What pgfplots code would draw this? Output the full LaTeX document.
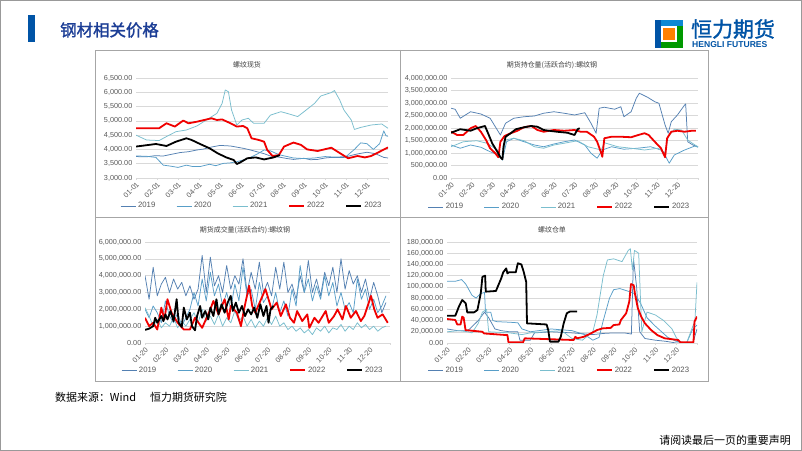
\documentclass[border=0pt]{standalone}
\usepackage{fontspec}
\setmainfont{Liberation Sans}
\newfontfamily\cjk{Noto Sans CJK SC}
\newfontfamily\cjkb[FakeBold=1.6]{Noto Sans CJK SC}
\usepackage{pgfplots}
\pgfplotsset{compat=1.18}

\definecolor{c19}{RGB}{84,128,178}
\definecolor{c20}{RGB}{88,158,200}
\definecolor{c21}{RGB}{122,190,206}
\definecolor{c22}{RGB}{240,0,0}
\definecolor{tickgray}{RGB}{89,89,89}
\definecolor{gridgray}{RGB}{217,217,217}
\definecolor{hlblue}{RGB}{0,84,166}
\definecolor{ttlblue}{RGB}{28,62,150}

\pgfplotsset{
  rebar/.style={
    scale only axis, anchor=south west,
    xmin=0, xmax=12, xtick={0,...,12},
    axis x line*=bottom, axis y line*=left,
    y axis line style={draw=none}, ytick style={draw=none},
    x axis line style={draw=gridgray}, xtick style={draw=gridgray},
    major tick length=2bp, tick align=outside,
    ymajorgrids, grid style={gridgray, line width=0.5bp},
    tick label style={font=\fontsize{7.3}{8}\selectfont, text=tickgray},
    xticklabel style={rotate=45, anchor=north east, inner sep=1bp},
    yticklabel style={inner sep=1.5bp},
    /pgf/number format/assume math mode=true,
    legend columns=5,
    legend style={draw=none, fill=none, font=\fontsize{7.8}{9}\selectfont,
      text=tickgray, anchor=center, inner sep=0pt,
      /tikz/every even column/.append style={column sep=19bp}},
    legend image code/.code={\draw[##1] (0bp,0bp) -- (15bp,0bp);},
    every axis plot/.append style={line join=round, no marks},
  },
  s19/.style={color=c19, line width=0.75bp},
  s20/.style={color=c20, line width=0.75bp},
  s21/.style={color=c21, line width=0.75bp},
  s22/.style={color=c22, line width=1.8bp},
  s23/.style={color=black, line width=1.8bp},
}

\begin{document}
\begin{tikzpicture}[x=1bp,y=1bp]
\path[use as bounding box] (0,0) rectangle (802,451);
\fill[white] (0,0) rectangle (802,451);
\draw[gray!80, line width=1.2bp] (0.6,0.6) rectangle (801.4,450.4);

% header
\fill[hlblue] (28,436) rectangle (35,409);
\node[anchor=west, inner sep=0pt, font=\cjkb\fontsize{16.5}{17}\selectfont, text=ttlblue] at (60,421) {钢材相关价格};
\fill[hlblue] (655,431) rectangle (661,403);
\fill[cyan!70!blue] (661,431) rectangle (683,425);
\fill[green!60!black] (677,425) rectangle (683,403);
\fill[green!60!black] (661,409) rectangle (677,403);
\fill[orange] (663,423) rectangle (675,411);
\node[anchor=west, inner sep=0pt, font=\cjkb\fontsize{21}{21}\selectfont, text=hlblue] at (691,422) {恒力期货};
\node[anchor=west, inner sep=0pt, font=\bfseries\fontsize{8.6}{9}\selectfont, text=hlblue] at (692,406) {HENGLI FUTURES};

% panels
\draw[gray!70, line width=0.8bp] (95,401) rectangle (708,70);
\draw[gray!70, line width=0.8bp] (400,401) -- (400,70);
\draw[gray!70, line width=0.8bp] (95,234) -- (708,234);

\node[font=\cjk\fontsize{7}{8}\selectfont, text=black!75] at (247,386) {螺纹现货};
\node[font=\cjk\fontsize{7}{8}\selectfont, text=black!75] at (552,386) {期货持仓量(活跃合约):螺纹钢};
\node[font=\cjk\fontsize{7}{8}\selectfont, text=black!75] at (245,221) {期货成交量(活跃合约):螺纹钢};
\node[font=\cjk\fontsize{7}{8}\selectfont, text=black!75] at (552,221) {螺纹仓单};

% footer
\node[anchor=west, inner sep=0pt, font=\cjk\fontsize{11}{11}\selectfont] at (55,54) {数据来源：Wind\hspace{14bp}恒力期货研究院};
\node[anchor=east, inner sep=0pt, font=\cjk\fontsize{11}{11}\selectfont] at (791,11) {请阅读最后一页的重要声明};

% ---------- top left: spot price
\begin{axis}[rebar, at={(136bp,273bp)}, width=252bp, height=100bp,
  ymin=3000, ymax=6500, ytick={3000,3500,...,6500},
  yticklabel={\pgfmathprintnumber[fixed,fixed zerofill,precision=2,1000 sep={,}]{\tick}},
  xticklabels={01-01,02-01,03-01,04-01,05-01,06-01,07-01,08-01,09-01,10-01,11-01,12-01,{}},
  legend style={at={(0.46,-0.28)}}]
\addplot[s19] coordinates {(0,3750)(0.5,3740)(0.9,3780)(1.3,3770)(1.7,3830)(2.1,3890)(2.5,3920)(2.9,3980)(3.2,4010)(3.5,4070)(4.0,4140)(4.5,4120)(4.8,4080)(5.1,4040)(5.4,3990)(5.75,3920)(6.1,3850)(6.4,3770)(6.9,3720)(7.2,3680)(7.5,3650)(8.0,3690)(8.3,3640)(8.65,3650)(9.0,3700)(9.3,3720)(9.9,3720)(10.3,3800)(10.6,3850)(11.0,3900)(11.4,3850)(11.8,3720)(12,3700)};
\addlegendentry{2019}
\addplot[s20] coordinates {(0,3770)(0.5,3760)(0.95,3720)(1.1,3600)(1.3,3450)(1.6,3420)(2.0,3370)(2.4,3450)(2.7,3400)(3.05,3400)(3.5,3480)(3.8,3430)(4.15,3510)(4.5,3530)(4.8,3570)(5.2,3650)(5.45,3720)(5.8,3850)(6.1,3980)(6.4,3950)(6.7,3850)(6.9,3800)(7.5,3700)(8.0,3680)(8.5,3700)(9.0,3750)(9.5,3730)(10.0,3750)(10.4,4000)(10.7,4230)(11.0,4200)(11.3,4000)(11.6,4200)(11.8,4650)(11.9,4480)(12,4460)};
\addlegendentry{2020}
\addplot[s21] coordinates {(0,4500)(0.5,4330)(1.1,4310)(1.45,4450)(1.9,4620)(2.4,4680)(2.9,4820)(3.35,5030)(3.85,5260)(4.1,5610)(4.25,6080)(4.4,6020)(4.55,5380)(4.8,4855)(5.05,5030)(5.35,5090)(5.6,4915)(6.1,4915)(6.4,5200)(6.9,5320)(7.2,5260)(7.7,5150)(8.0,5320)(8.5,5610)(8.8,5870)(9.3,5990)(9.45,6060)(9.7,5730)(9.9,5380)(10.25,5030)(10.4,4700)(10.7,4770)(11.2,4855)(11.7,4890)(12,4740)};
\addlegendentry{2021}
\addplot[s22] coordinates {(0,4740)(1.1,4740)(1.45,4915)(1.85,4800)(2.25,5010)(2.5,4915)(2.9,4970)(3.6,5090)(3.85,5030)(4.1,5050)(4.5,4915)(4.8,4800)(5.1,4820)(5.3,4740)(5.5,4390)(5.85,4330)(6.1,4270)(6.25,3980)(6.5,3770)(6.8,3800)(7.05,4100)(7.5,4240)(7.85,4160)(8.15,4000)(8.65,3945)(9.3,4060)(9.6,3920)(10.1,3690)(10.55,3770)(10.9,3720)(11.2,3770)(11.6,3920)(12,4070)};
\addlegendentry{2022}
\addplot[s23] coordinates {(0,4100)(0.95,4190)(1.45,4120)(1.9,4270)(2.4,4390)(2.65,4330)(3.05,4190)(3.5,4040)(3.9,3860)(4.3,3720)(4.65,3630)(4.8,3490)(4.95,3540)(5.3,3690)(5.7,3720)(6.1,3650)(6.55,3720)(6.85,3800)};
\addlegendentry{2023}
\end{axis}

% ---------- top right: open interest (million)
\begin{axis}[rebar, at={(451bp,273bp)}, width=247bp, height=100bp,
  ymin=0, ymax=4, ytick={0,0.5,1,1.5,2,2.5,3,3.5,4},
  yticklabels={{0.00},{500,000.00},{1,000,000.00},{1,500,000.00},{2,000,000.00},{2,500,000.00},{3,000,000.00},{3,500,000.00},{4,000,000.00}},
  xticklabels={01-20,02-20,03-20,04-20,05-20,06-20,07-20,08-20,09-20,10-20,11-20,12-20,{}},
  legend style={at={(0.44,-0.29)}}]
\addplot[s19] coordinates {(0,2.79)(0.2,2.75)(0.45,2.39)(0.95,2.65)(1.45,2.56)(1.9,2.39)(2.25,1.92)(2.4,1.72)(2.65,2.19)(3.05,2.39)(3.55,2.45)(4.05,2.48)(4.5,2.59)(5.0,2.65)(5.5,2.59)(6.0,2.52)(6.5,2.61)(6.8,2.19)(7.05,1.79)(7.2,2.79)(7.45,2.83)(7.95,2.75)(8.25,2.85)(8.4,2.45)(8.75,2.65)(9.0,3.19)(9.15,3.39)(9.55,3.23)(9.9,3.05)(10.1,2.99)(10.4,2.12)(10.55,1.79)(10.7,2.25)(11.0,2.52)(11.35,2.92)(11.4,2.96)(11.5,1.45)(11.75,1.32)(12,1.25)};
\addlegendentry{2019}
\addplot[s20] coordinates {(0,1.32)(0.45,1.19)(0.95,1.32)(1.45,1.23)(1.9,1.05)(2.3,0.92)(2.5,0.72)(2.7,1.45)(3.05,1.59)(3.55,1.45)(4.05,1.32)(4.5,1.25)(5.0,1.36)(5.5,1.45)(6.0,1.52)(6.5,1.32)(6.8,0.99)(7.1,0.79)(7.35,1.12)(7.8,1.25)(8.4,1.15)(9.05,1.19)(9.7,1.25)(10.2,1.12)(10.45,0.83)(10.6,0.59)(10.85,0.92)(11.35,1.12)(11.85,1.28)(12,1.23)};
\addlegendentry{2020}
\addplot[s21] coordinates {(0,1.25)(0.6,1.45)(1.25,1.49)(1.75,1.39)(2.25,1.12)(2.5,0.72)(2.65,1.52)(3.05,1.59)(3.55,1.49)(4.05,1.25)(4.5,1.19)(5.0,1.32)(5.5,1.39)(6.15,1.49)(6.65,1.25)(7.3,1.12)(7.45,1.41)(8.1,1.25)(8.75,1.19)(9.4,1.12)(10.05,1.19)(10.4,1.01)(10.55,1.65)(10.85,1.95)(11.2,1.92)(11.5,1.52)(11.85,1.32)(12,1.25)};
\addlegendentry{2021}
\addplot[s22] coordinates {(0,1.85)(0.3,1.72)(0.6,1.72)(0.95,1.99)(1.2,2.08)(1.45,1.85)(1.7,1.52)(1.9,1.19)(2.15,0.99)(2.3,0.83)(2.4,1.45)(2.6,1.68)(2.9,1.79)(3.2,1.88)(3.55,2.03)(3.9,2.08)(4.2,1.92)(4.5,1.85)(5.0,1.92)(5.5,1.89)(6.0,1.92)(6.3,1.85)(6.6,1.85)(6.95,1.65)(7.1,1.45)(7.3,0.99)(7.35,0.85)(7.45,1.59)(7.8,1.65)(8.25,1.65)(8.75,1.63)(9.1,1.72)(9.4,1.79)(9.6,1.72)(9.9,1.45)(10.2,1.19)(10.4,0.83)(10.5,1.59)(10.7,1.85)(11.0,1.89)(11.35,1.85)(11.7,1.89)(11.9,1.89)};
\addlegendentry{2022}
\addplot[s23] coordinates {(0,1.81)(0.45,1.95)(0.95,1.89)(1.25,1.99)(1.65,2.08)(1.8,1.79)(2.0,1.39)(2.25,1.05)(2.4,0.83)(2.5,0.75)(2.55,1.25)(2.65,1.65)(2.9,1.79)(3.15,1.95)(3.55,2.03)(3.9,2.08)(4.2,2.05)(4.5,1.92)(4.85,1.88)(5.15,1.85)(5.65,1.81)(6.0,1.72)(6.15,1.95)(6.25,1.99)};
\addlegendentry{2023}
\end{axis}

% ---------- bottom left: volume (million)
\begin{axis}[rebar, at={(145bp,108bp)}, width=245bp, height=101bp,
  ymin=0, ymax=6, ytick={0,...,6},
  yticklabels={{0.00},{1,000,000.00},{2,000,000.00},{3,000,000.00},{4,000,000.00},{5,000,000.00},{6,000,000.00}},
  xticklabels={01-20,02-20,03-20,04-20,05-20,06-20,07-20,08-20,09-20,10-20,11-20,12-20,{}},
  legend style={at={(0.44,-0.27)}}]
\addplot[s19] coordinates {(0,4.0)(0.2,2.6)(0.4,4.5)(0.6,2.8)(0.8,3.5)(1.0,3.9)(1.2,3.0)(1.4,3.8)(1.6,3.2)(1.8,3.6)(2.0,2.8)(2.2,3.4)(2.4,2.6)(2.6,3.2)(2.8,5.2)(3.0,3.0)(3.2,5.1)(3.4,3.4)(3.6,4.0)(3.8,3.0)(4.0,4.6)(4.2,3.2)(4.4,4.0)(4.6,3.5)(4.8,5.0)(5.0,3.0)(5.2,4.2)(5.4,3.2)(5.6,4.8)(5.8,3.0)(6.0,3.6)(6.2,2.8)(6.4,4.5)(6.6,3.2)(6.8,4.8)(7.0,3.0)(7.2,3.5)(7.4,2.6)(7.6,4.0)(7.8,3.0)(8.0,4.9)(8.2,3.0)(8.4,3.8)(8.6,2.8)(8.8,4.2)(9.0,3.4)(9.2,4.5)(9.4,3.0)(9.6,5.0)(9.8,3.2)(10.0,4.3)(10.2,3.5)(10.4,4.0)(10.6,3.0)(10.8,3.8)(11.0,2.6)(11.2,3.6)(11.4,2.8)(11.6,1.8)(11.8,2.4)};
\addlegendentry{2019}
\addplot[s20] coordinates {(0,2.0)(0.2,1.5)(0.4,2.2)(0.6,1.8)(0.8,1.2)(1.0,2.5)(1.2,1.6)(1.4,1.2)(1.6,1.8)(1.8,1.0)(2.0,1.5)(2.2,2.0)(2.4,3.0)(2.6,2.2)(2.8,3.8)(3.0,2.5)(3.2,4.2)(3.4,2.8)(3.6,3.5)(3.8,2.2)(4.0,3.0)(4.2,2.0)(4.4,3.5)(4.6,2.5)(4.8,4.5)(5.0,2.8)(5.2,3.2)(5.4,2.0)(5.6,3.6)(5.8,2.4)(6.0,2.8)(6.2,2.0)(6.4,3.0)(6.6,1.8)(6.8,2.5)(7.0,1.6)(7.2,3.2)(7.4,2.2)(7.6,4.6)(7.8,3.0)(8.0,3.8)(8.2,2.5)(8.4,3.4)(8.6,2.6)(8.8,4.0)(9.0,2.8)(9.2,3.6)(9.4,2.2)(9.6,3.0)(9.8,2.0)(10.0,2.4)(10.2,1.8)(10.4,3.8)(10.6,2.6)(10.8,3.2)(11.0,2.0)(11.2,2.6)(11.4,1.8)(11.6,2.2)(11.8,2.8)};
\addlegendentry{2020}
\addplot[s21] coordinates {(0,2.1)(0.2,1.6)(0.4,1.0)(0.6,1.4)(0.8,0.9)(1.0,1.2)(1.2,1.0)(1.4,1.5)(1.6,0.9)(1.8,1.3)(2.0,1.0)(2.2,1.4)(2.4,1.8)(2.6,1.2)(2.8,2.0)(3.0,1.3)(3.2,1.6)(3.4,1.1)(3.6,1.7)(3.8,1.0)(4.0,1.5)(4.2,1.2)(4.4,1.9)(4.6,1.3)(4.8,1.6)(5.0,1.0)(5.2,1.4)(5.4,0.9)(5.6,1.3)(5.8,1.0)(6.0,1.5)(6.2,1.1)(6.4,1.6)(6.6,1.0)(6.8,1.2)(7.0,0.8)(7.2,1.0)(7.4,0.7)(7.6,0.9)(7.8,0.6)(8.0,0.8)(8.2,0.5)(8.4,0.9)(8.6,0.7)(8.8,1.0)(9.0,0.6)(9.2,0.9)(9.4,0.8)(9.6,1.1)(9.8,0.7)(10.0,1.0)(10.2,0.8)(10.4,1.2)(10.6,0.9)(10.8,1.1)(11.0,0.8)(11.2,1.0)(11.4,0.7)(11.6,0.9)(11.8,1.0)};
\addlegendentry{2021}
\addplot[s22] coordinates {(0,1.5)(0.2,1.0)(0.4,1.2)(0.6,0.8)(0.8,2.1)(0.95,1.4)(1.1,2.6)(1.3,1.8)(1.6,1.2)(1.9,0.8)(2.2,0.8)(2.45,1.5)(2.8,0.9)(3.2,2.0)(3.35,2.5)(3.6,1.7)(3.9,2.6)(4.1,1.4)(4.2,2.2)(4.5,1.8)(4.7,1.0)(4.85,2.0)(5.1,3.4)(5.25,2.2)(5.4,1.8)(5.65,2.5)(5.9,3.2)(6.05,2.6)(6.2,2.0)(6.45,2.4)(6.65,1.6)(6.9,2.3)(7.1,1.5)(7.3,1.2)(7.45,1.9)(7.7,1.3)(7.95,1.7)(8.05,0.9)(8.3,1.5)(8.5,1.2)(8.85,1.9)(9.0,1.2)(9.26,1.6)(9.43,2.0)(9.67,1.4)(9.84,2.2)(10.08,1.5)(10.33,1.9)(10.57,1.3)(10.74,1.6)(11.07,2.8)(11.23,2.0)(11.39,1.5)(11.64,1.7)(11.89,1.2)};
\addlegendentry{2022}
\addplot[s23] coordinates {(0,0.78)(0.2,0.85)(0.4,1.0)(0.5,1.5)(0.6,1.2)(0.8,1.6)(0.9,1.3)(1.0,1.7)(1.1,1.4)(1.25,1.9)(1.4,1.3)(1.55,2.6)(1.65,1.2)(1.8,0.95)(1.9,2.1)(2.05,1.4)(2.2,1.8)(2.3,1.0)(2.45,0.75)(2.55,1.6)(2.7,2.2)(2.8,1.5)(2.95,1.9)(3.1,1.4)(3.2,2.1)(3.35,1.6)(3.5,2.6)(3.6,1.7)(3.75,2.3)(3.9,1.8)(4.05,2.4)(4.2,2.8)(4.3,1.9)(4.45,2.4)(4.6,1.8)(4.75,2.2)(4.9,1.6)(5.05,2.0)(5.2,1.7)(5.35,2.1)(5.5,1.5)(5.65,2.3)(5.8,1.6)(5.95,2.2)(6.05,1.2)(6.15,2.0)(6.3,2.2)};
\addlegendentry{2023}
\end{axis}

% ---------- bottom right: warehouse receipts (thousand)
\begin{axis}[rebar, at={(447bp,108bp)}, width=250bp, height=101bp,
  ymin=0, ymax=180, ytick={0,20,...,180},
  yticklabels={{0.00},{20,000.00},{40,000.00},{60,000.00},{80,000.00},{100,000.00},{120,000.00},{140,000.00},{160,000.00},{180,000.00}},
  xticklabels={01-20,02-20,03-20,04-20,05-20,06-20,07-20,08-20,09-20,10-20,11-20,12-20,{}},
  legend style={at={(0.45,-0.27)}}]
\addplot[s19] coordinates {(0,25)(0.5,22)(1.0,22)(1.5,40)(1.8,55)(2.0,45)(2.3,25)(2.6,22)(3.0,20)(3.4,20)(3.5,5)(4.0,5)(4.2,18)(5.0,20)(6.0,18)(7.0,15)(7.5,17)(8.0,18)(8.5,18)(8.85,16)(8.95,150)(9.1,100)(9.25,20)(9.5,8)(10,5)(10.5,3)(11,0)(11.8,0)(12,25)};
\addlegendentry{2019}
\addplot[s20] coordinates {(0,110)(0.4,110)(0.7,113)(0.9,105)(1.2,85)(1.4,80)(1.6,88)(1.8,90)(1.85,55)(2.1,55)(2.2,40)(2.4,38)(3.0,37)(3.4,36)(3.6,25)(4.0,20)(5.0,25)(6.0,22)(6.6,15)(7.0,5)(7.3,10)(7.5,40)(7.8,80)(8.0,95)(8.3,97)(8.8,91)(9.0,88)(9.3,70)(9.6,45)(10.0,30)(10.3,20)(10.6,10)(11.0,3)(11.5,0)(11.8,25)(12,32)};
\addlegendentry{2020}
\addplot[s21] coordinates {(0,20)(0.6,22)(1.0,20)(1.2,18)(1.5,35)(1.7,55)(1.9,60)(2.0,20)(3.0,18)(3.6,15)(4.0,18)(4.7,20)(5.5,22)(6.0,8)(6.5,5)(7.0,20)(7.2,50)(7.5,120)(7.7,148)(8.0,150)(8.4,145)(8.7,165)(8.8,168)(8.9,130)(9.0,165)(9.2,160)(9.35,20)(9.6,55)(10.0,50)(10.4,40)(10.8,25)(11.0,10)(11.2,0)(11.5,0)(11.7,20)(11.9,40)(12,108)};
\addlegendentry{2021}
\addplot[s22] coordinates {(0,42.8)(0.4,41)(0.49,33)(0.65,33)(0.73,47)(0.8,45)(0.89,23)(1.7,20)(1.78,17)(2.9,14)(2.95,1.2)(3.65,1.2)(3.73,8.3)(6.08,5.3)(6.16,11)(6.24,8.3)(6.56,11)(6.9,17)(7.2,23)(7.46,26)(7.86,27)(8.0,32)(8.27,33)(8.35,41)(8.6,53)(8.75,74)(8.83,105)(8.96,103)(9.03,86)(9.16,62)(9.32,47)(9.5,35)(9.8,23)(10.1,14)(10.45,8.3)(11.1,5.3)(11.2,1.2)(11.83,1.2)(11.88,38)(12,47)};
\addlegendentry{2022}
\addplot[s23] coordinates {(0,48.7)(0.4,48.7)(0.57,64.7)(0.73,76.6)(0.9,70.7)(0.97,54.6)(1.3,54.6)(1.46,58.8)(1.62,88.5)(1.7,118)(1.83,120)(1.86,91.5)(2.35,92.7)(2.43,100)(2.6,115)(2.7,126)(2.84,133)(2.9,124)(2.97,126)(3.3,126)(3.4,142)(3.57,140)(3.68,127)(3.8,109)(3.84,35)(4.78,33)(4.86,23)(4.94,2.4)(5.35,2.4)(5.46,11)(5.6,35)(5.75,53)(5.9,56)(6.24,56)};
\addlegendentry{2023}
\end{axis}
\end{tikzpicture}
\end{document}
